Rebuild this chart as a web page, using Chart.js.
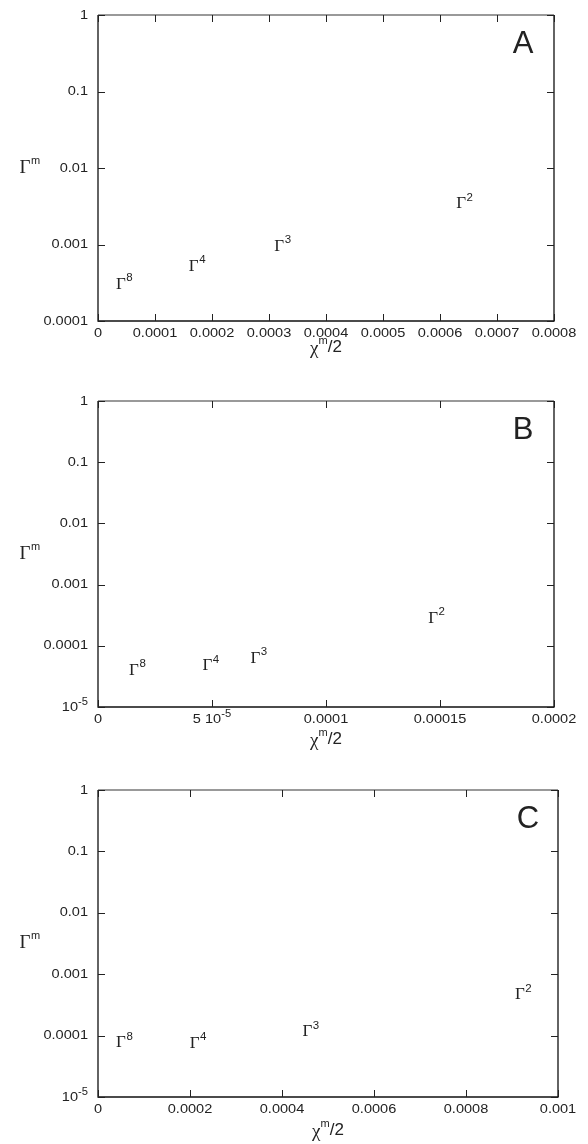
<!DOCTYPE html>
<html>
<head>
<meta charset="utf-8">
<script src="https://cdn.jsdelivr.net/npm/chart.js@4/dist/chart.umd.min.js"></script>
<style>
  body { margin: 0; background: #fff; }
  .panel { position: absolute; left: 0; width: 588px; }
</style>
</head>
<body>
<div class="panel" style="top:0px;height:360px"><canvas id="chartA" width="588" height="360"></canvas></div>
<div class="panel" style="top:360px;height:390px"><canvas id="chartB" width="588" height="390"></canvas></div>
<div class="panel" style="top:750px;height:394px"><canvas id="chartC" width="588" height="394"></canvas></div>
<script>
// point labels (superscript m of Gamma)
const orders = ['8', '4', '3', '2'];

// panel A
const xA = [4.0e-5, 1.68e-4, 3.18e-4, 6.37e-4];
const yA = [3.0e-4, 5.2e-4, 9.5e-4, 3.4e-3];
// panel B
const xB = [1.58e-5, 4.8e-5, 6.9e-5, 1.47e-4];
const yB = [4.0e-5, 4.7e-5, 6.3e-5, 2.8e-4];
// panel C
const xC = [5.0e-5, 2.1e-4, 4.55e-4, 9.17e-4];
const yC = [7.6e-5, 7.5e-5, 1.15e-4, 4.6e-4];

// ticks
const xTicksA = [0, 0.0001, 0.0002, 0.0003, 0.0004, 0.0005, 0.0006, 0.0007, 0.0008];
const xLabelsA = ['0', '0.0001', '0.0002', '0.0003', '0.0004', '0.0005', '0.0006', '0.0007', '0.0008'];
const xTicksB = [0, 5e-5, 1e-4, 1.5e-4, 2e-4];
const xLabelsB = ['0', '5 10^-5', '0.0001', '0.00015', '0.0002'];
const xTicksC = [0, 0.0002, 0.0004, 0.0006, 0.0008, 0.001];
const xLabelsC = ['0', '0.0002', '0.0004', '0.0006', '0.0008', '0.001'];
const yTicksA = [1e-4, 1e-3, 1e-2, 0.1, 1];
const yLabelsA = ['0.0001', '0.001', '0.01', '0.1', '1'];
const yTicksBC = [1e-5, 1e-4, 1e-3, 1e-2, 0.1, 1];
const yLabelsBC = ['10^-5', '0.0001', '0.001', '0.01', '0.1', '1'];

const INK = '#222';
const SANS = '"Liberation Sans", Arial, sans-serif';
const SERIF = '"Liberation Serif", "Times New Roman", serif';
const STRETCH = 1.12;

// draw "base^sup" text, slightly widened like the original; align: 'left' | 'center' | 'right'
function richText(ctx, str, x, y, size, align) {
    const parts = str.split('^');
    const base = parts[0], sup = parts[1] || '';
    const supSize = Math.round(size * 0.75);
    ctx.font = size + 'px ' + SANS;
    const wb = ctx.measureText(base).width;
    ctx.font = supSize + 'px ' + SANS;
    const ws = sup ? ctx.measureText(sup).width : 0;
    const total = (wb + ws) * STRETCH;
    let x0 = x;
    if (align === 'center') x0 = x - total / 2;
    if (align === 'right') x0 = x - total;
    ctx.save();
    ctx.translate(x0, y);
    ctx.scale(STRETCH, 1);
    ctx.textAlign = 'left';
    ctx.textBaseline = 'middle';
    ctx.font = size + 'px ' + SANS;
    ctx.fillText(base, 0, 0);
    if (sup) {
        ctx.font = supSize + 'px ' + SANS;
        ctx.fillText(sup, wb, -size * 0.4);
    }
    ctx.restore();
}

function gammaLabel(ctx, sup, x, y, gSize, sSize) {
    ctx.textBaseline = 'middle';
    ctx.textAlign = 'center';
    ctx.font = gSize + 'px ' + SERIF;
    const w = ctx.measureText('\u0393').width;
    ctx.fillText('\u0393', x, y);
    ctx.textAlign = 'left';
    ctx.font = sSize + 'px ' + SANS;
    ctx.fillText(sup, x + w / 2 + 0.5, y - gSize * 0.38);
}

const panelPlugin = {
    id: 'panelDeco',
    afterDraw(chart) {
        const o = chart.options.plugins.panelDeco;
        const ctx = chart.ctx;
        const a = chart.chartArea;
        const xs = chart.scales.x, ys = chart.scales.y;
        ctx.save();
        ctx.fillStyle = INK;

        // frame
        ctx.lineWidth = 1.3;
        ctx.strokeStyle = '#777';
        ctx.beginPath(); ctx.moveTo(a.left, a.top); ctx.lineTo(a.right, a.top); ctx.stroke();
        ctx.strokeStyle = '#111';
        ctx.beginPath();
        ctx.moveTo(a.right, a.top); ctx.lineTo(a.right, a.bottom);
        ctx.lineTo(a.left, a.bottom); ctx.lineTo(a.left, a.top);
        ctx.stroke();

        // inward ticks
        const tl = 7;
        ctx.lineWidth = 1;
        ctx.strokeStyle = '#222';
        ctx.beginPath();
        o.xTicks.forEach(v => {
            const px = Math.round(xs.getPixelForValue(v)) + 0.5;
            ctx.moveTo(px, a.bottom); ctx.lineTo(px, a.bottom - tl);
            ctx.moveTo(px, a.top); ctx.lineTo(px, a.top + tl);
        });
        o.yTicks.forEach(v => {
            const py = Math.round(ys.getPixelForValue(v)) + 0.5;
            ctx.moveTo(a.left, py); ctx.lineTo(a.left + tl, py);
            ctx.moveTo(a.right, py); ctx.lineTo(a.right - tl, py);
        });
        ctx.stroke();

        // tick labels
        o.xTicks.forEach((v, i) => {
            richText(ctx, o.xLabels[i], xs.getPixelForValue(v), a.bottom + 12, 13, 'center');
        });
        o.yTicks.forEach((v, i) => {
            richText(ctx, o.yLabels[i], a.left - 10, ys.getPixelForValue(v), 13, 'right');
        });

        // point labels
        const meta = chart.getDatasetMeta(0);
        meta.data.forEach((pt, i) => {
            gammaLabel(ctx, orders[i], pt.x, pt.y, 17, 11.5);
        });

        // axis titles
        gammaLabel(ctx, 'm', 25, (a.top + a.bottom) / 2, 19, 11);
        const cx = (a.left + a.right) / 2;
        const ty = a.bottom + o.titleGap;
        ctx.font = '19px ' + SERIF;
        const wc = ctx.measureText('\u03c7').width;
        ctx.font = '11px ' + SANS;
        const wm = ctx.measureText('m').width;
        ctx.font = '17px ' + SANS;
        const w2 = ctx.measureText('/2').width;
        let x0 = cx - (wc + wm + w2) / 2;
        ctx.textAlign = 'left';
        ctx.textBaseline = 'middle';
        ctx.font = '19px ' + SERIF;
        ctx.fillText('\u03c7', x0, ty + 2);
        ctx.font = '11px ' + SANS;
        ctx.fillText('m', x0 + wc, ty - 6);
        ctx.font = '17px ' + SANS;
        ctx.fillText('/2', x0 + wc + wm, ty);

        // panel letter
        ctx.font = '31px ' + SANS;
        ctx.textAlign = 'center';
        ctx.textBaseline = 'middle';
        ctx.fillText(o.letter, a.right - o.letterDx, a.top + 29);
        ctx.restore();
    }
};

function makePanel(id, xs, ys, opts) {
    const pts = xs.map((x, i) => ({ x: x, y: ys[i] }));
    new Chart(document.getElementById(id), {
        type: 'scatter',
        data: { datasets: [{ data: pts, pointRadius: 0, pointHoverRadius: 0, showLine: false }] },
        options: {
            responsive: false,
            animation: false,
            events: [],
            layout: { padding: { top: opts.top, right: opts.right, left: 0, bottom: 0 } },
            plugins: {
                legend: { display: false },
                tooltip: { enabled: false },
                panelDeco: opts.deco
            },
            scales: {
                x: {
                    type: 'linear', min: 0, max: opts.xMax,
                    grid: { display: false, drawTicks: false },
                    border: { display: false },
                    ticks: { display: false },
                    afterBuildTicks: s => { s.ticks = opts.deco.xTicks.map(v => ({ value: v })); },
                    afterFit: s => { s.height = opts.xAxisH; }
                },
                y: {
                    type: 'logarithmic', min: opts.yMin, max: 1,
                    grid: { display: false, drawTicks: false },
                    border: { display: false },
                    ticks: { display: false },
                    afterBuildTicks: s => { s.ticks = opts.deco.yTicks.map(v => ({ value: v })); },
                    afterFit: s => { s.width = 98; }
                }
            }
        },
        plugins: [panelPlugin]
    });
}

makePanel('chartA', xA, yA, {
    top: 15, right: 34, xAxisH: 39, xMax: 0.0008, yMin: 1e-4,
    deco: { xTicks: xTicksA, xLabels: xLabelsA, yTicks: yTicksA, yLabels: yLabelsA, letter: 'A', letterDx: 31, titleGap: 26 }
});
makePanel('chartB', xB, yB, {
    top: 41, right: 34, xAxisH: 43, xMax: 0.0002, yMin: 1e-5,
    deco: { xTicks: xTicksB, xLabels: xLabelsB, yTicks: yTicksBC, yLabels: yLabelsBC, letter: 'B', letterDx: 31, titleGap: 32 }
});
makePanel('chartC', xC, yC, {
    top: 40, right: 30, xAxisH: 47, xMax: 0.001, yMin: 1e-5,
    deco: { xTicks: xTicksC, xLabels: xLabelsC, yTicks: yTicksBC, yLabels: yLabelsBC, letter: 'C', letterDx: 30, titleGap: 33 }
});
</script>
</body>
</html>
